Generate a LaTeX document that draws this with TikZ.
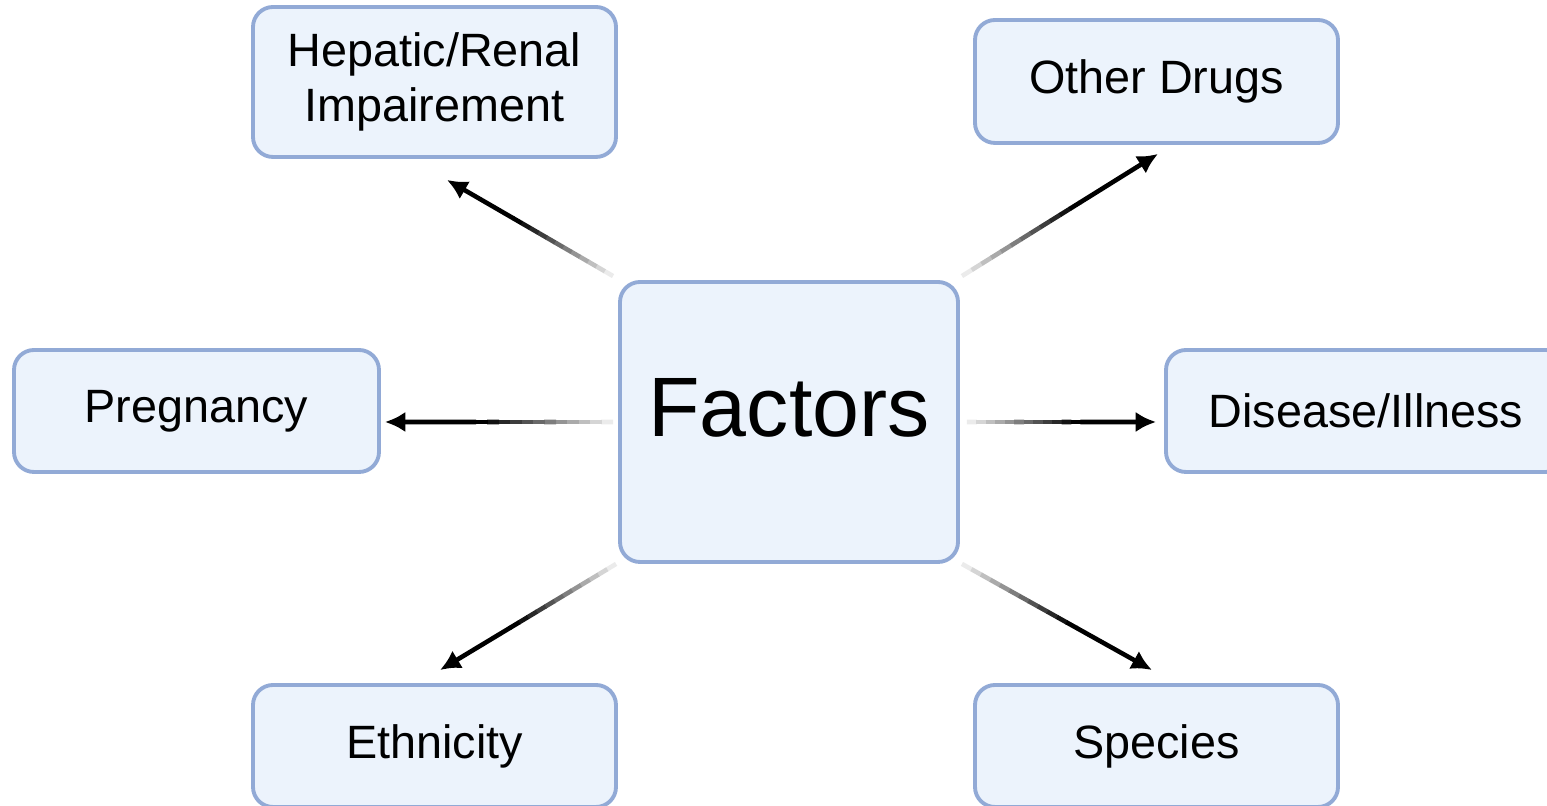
\documentclass[tikz,border=0pt]{standalone}
\usepackage{fontspec}
\setmainfont{Liberation Sans}
\usetikzlibrary{arrows.meta,calc}

\definecolor{boxline}{HTML}{92AAD6}
\definecolor{boxfill}{HTML}{ECF3FC}

\tikzset{
  factorbox/.style={draw=boxline, fill=boxfill, line width=1.1pt, rounded corners=0.2cm,
    align=center, inner sep=0pt},
  smallbox/.style={factorbox, minimum width=3.63cm, minimum height=1.22cm, font=\fontsize{13.3}{15.5}\selectfont},
  conn/.style={line width=1.3pt},
}

% fading connector: light grey at the start, black towards the tip
\newcommand{\fadelink}[2]{%
  \foreach \i in {0,...,11} {
    \pgfmathsetmacro\shd{min(100,8+\i*8.5)}
    \draw[conn, black!\shd] ($(#1)!\i/20!(#2)$) -- ($(#1)!{(\i+1.05)/20}!(#2)$);
  }
  \draw[conn, -{Latex[length=5.8pt,width=5.8pt]}] ($(#1)!0.6!(#2)$) -- (#2);
}

\begin{document}
\begin{tikzpicture}
  \useasboundingbox (0,0) rectangle (15.47,8.06);
  \clip (0,0) rectangle (15.47,8.06);

  %% --- centre ---
  \node[factorbox, minimum width=3.38cm, minimum height=2.80cm, text height=0.9cm, text depth=0.6cm,
        font=\fontsize{24}{28}\selectfont] (fac) at (7.89,3.84) {Factors};

  %% --- surrounding boxes ---
  \node[smallbox, minimum height=1.50cm] (hep) at (4.345,7.24) {Hepatic/Renal\\Impairement};
  \node[smallbox, minimum height=1.23cm] (oth) at (11.565,7.245) {Other Drugs};
  \node[smallbox, minimum width=3.65cm] (pre) at (1.965,3.95) {Pregnancy};
  \node[smallbox, minimum width=4.00cm] (dis) at (13.66,3.95) {Disease/Illness};
  \node[smallbox] (eth) at (4.345,0.60) {Ethnicity};
  \node[smallbox] (spe) at (11.565,0.60) {Species};

  %% --- connector ends ---
  \coordinate (s1) at ($(fac.north west)+(-0.05,0.04)$);
  \coordinate (e1) at ($(hep.south)+(0.125,-0.21)$);
  \coordinate (s2) at ($(fac.north east)+(0.02,0.04)$);
  \coordinate (e2) at ($(oth.south)+(0.015,-0.09)$);
  \coordinate (s3) at ($(fac.west)+(-0.05,0)$);
  \coordinate (e3) at ($(fac.west -| pre.east)+(0.04,0)$);
  \coordinate (s4) at ($(fac.east)+(0.07,0)$);
  \coordinate (e4) at ($(fac.east -| dis.west)+(-0.08,0)$);
  \coordinate (s5) at ($(fac.south west)+(-0.02,0)$);
  \coordinate (e5) at ($(eth.north)+(0.055,0.13)$);
  \coordinate (s6) at ($(fac.south east)+(0.02,0)$);
  \coordinate (e6) at ($(spe.north)+(-0.045,0.13)$);

  \fadelink{s1}{e1}
  \fadelink{s2}{e2}
  \fadelink{s3}{e3}
  \fadelink{s4}{e4}
  \fadelink{s5}{e5}
  \fadelink{s6}{e6}
\end{tikzpicture}
\end{document}
